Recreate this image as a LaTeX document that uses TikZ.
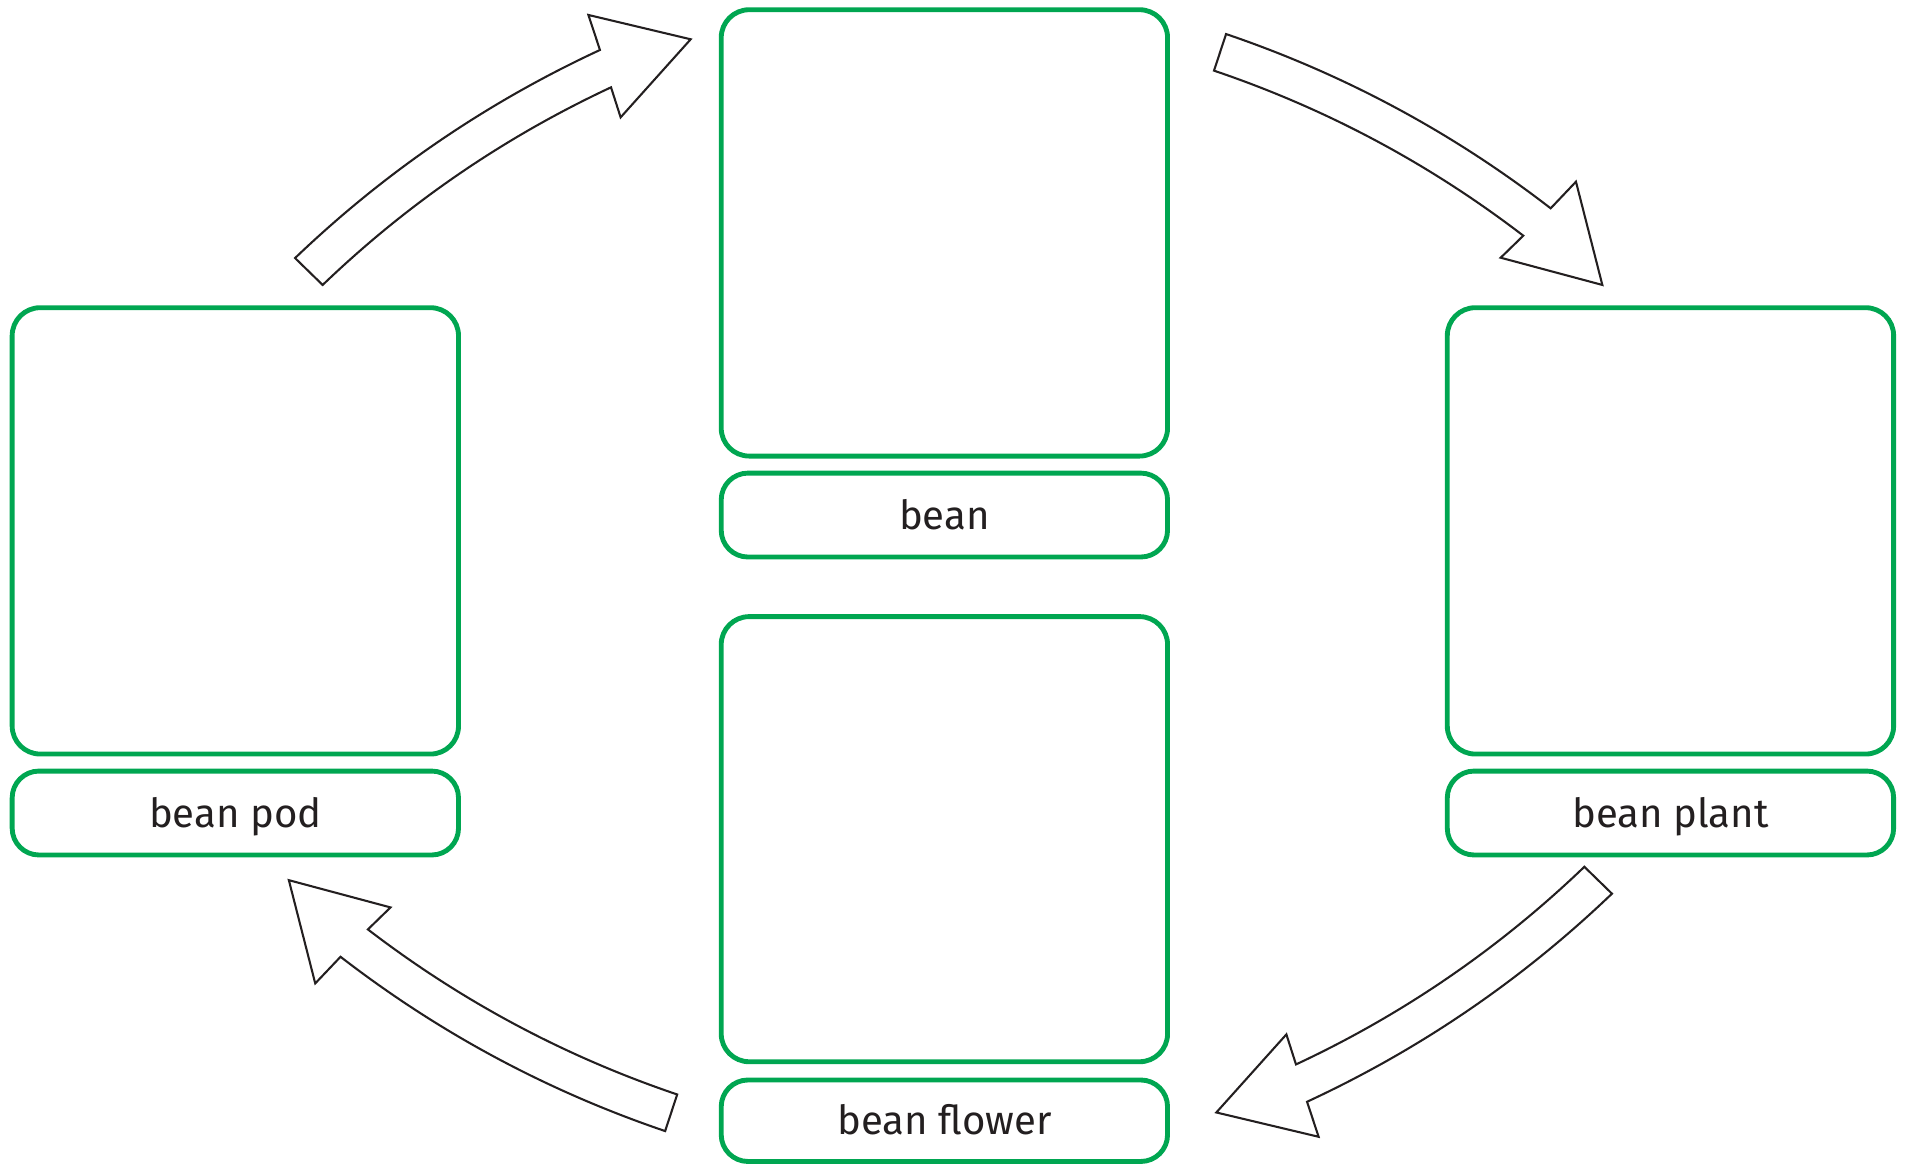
\documentclass[tikz,border=0pt]{standalone}
\usepackage{fontspec}
\setmainfont{Fira Sans}
\definecolor{boxgreen}{HTML}{00A651}
\definecolor{inkgray}{HTML}{231F20}
\begin{document}
\begin{tikzpicture}[x=1pt,y=-1pt,
  bigbox/.style={draw=boxgreen,line width=4pt,rounded corners=23pt,
    minimum width=367pt,minimum height=367pt,inner sep=0pt,outer sep=0pt},
  lblbox/.style={draw=boxgreen,line width=4pt,rounded corners=22pt,
    minimum width=367pt,minimum height=69pt,inner sep=0pt,outer sep=0pt,
    text height=23pt,text depth=0pt,text=inkgray,
    font=\fontsize{33}{40}\selectfont},
  blockarrow/.style={draw=inkgray,fill=white,line width=1.7pt,line join=miter}]
\useasboundingbox (0,0) rectangle (1568,957.1);

% picture boxes
\node[bigbox] (pod)    at (193.5,436.5) {};
\node[bigbox] (bean)   at (776.5,191.5) {};
\node[bigbox,minimum height=366pt] (flower) at (776.5,690) {};
\node[bigbox] (plant)  at (1373.5,436.5) {};

% label boxes
\node[lblbox] (podlbl)    at (193.5,668.5) {bean pod};
\node[lblbox] (beanlbl)   at (776.5,423.5) {bean};
\node[lblbox,minimum height=67pt] (flowerlbl) at (776.5,921.5) {bean flower};
\node[lblbox] (plantlbl)  at (1373.5,668.5) {bean plant};

% block arrows
\newcommand{\arrowshapeA}{%
  (242.6,212.2) .. controls (316.67,141.3) and (400.23,84.27) .. (493.3,41.1)
  -- (483.8,12.3) -- (567.9,32.3) -- (510.3,96.5) -- (502.4,71.8)
  .. controls (414.41,112.9) and (335.37,167.07) .. (265.3,234.3) -- cycle}
\newcommand{\arrowshapeB}{%
  (1008.1,28) .. controls (1105.0,60.93) and (1193.97,108.69) .. (1275,171.3)
  -- (1295.8,149.4) -- (1317.5,234.3) -- (1233.9,211.9) -- (1252.5,193.8)
  .. controls (1175.25,134.57) and (1090.48,89.33) .. (998.2,58.1) -- cycle}

% bean pod -> bean
\draw[blockarrow] \arrowshapeA;
% bean -> bean plant
\draw[blockarrow] \arrowshapeB;
% bean plant -> bean flower
\begin{scope}[rotate around={180:(784,473.5)}]
\draw[blockarrow] \arrowshapeA;
\end{scope}
% bean flower -> bean pod
\begin{scope}[rotate around={180:(777.5,479)}]
\draw[blockarrow] \arrowshapeB;
\end{scope}
\end{tikzpicture}
\end{document}
